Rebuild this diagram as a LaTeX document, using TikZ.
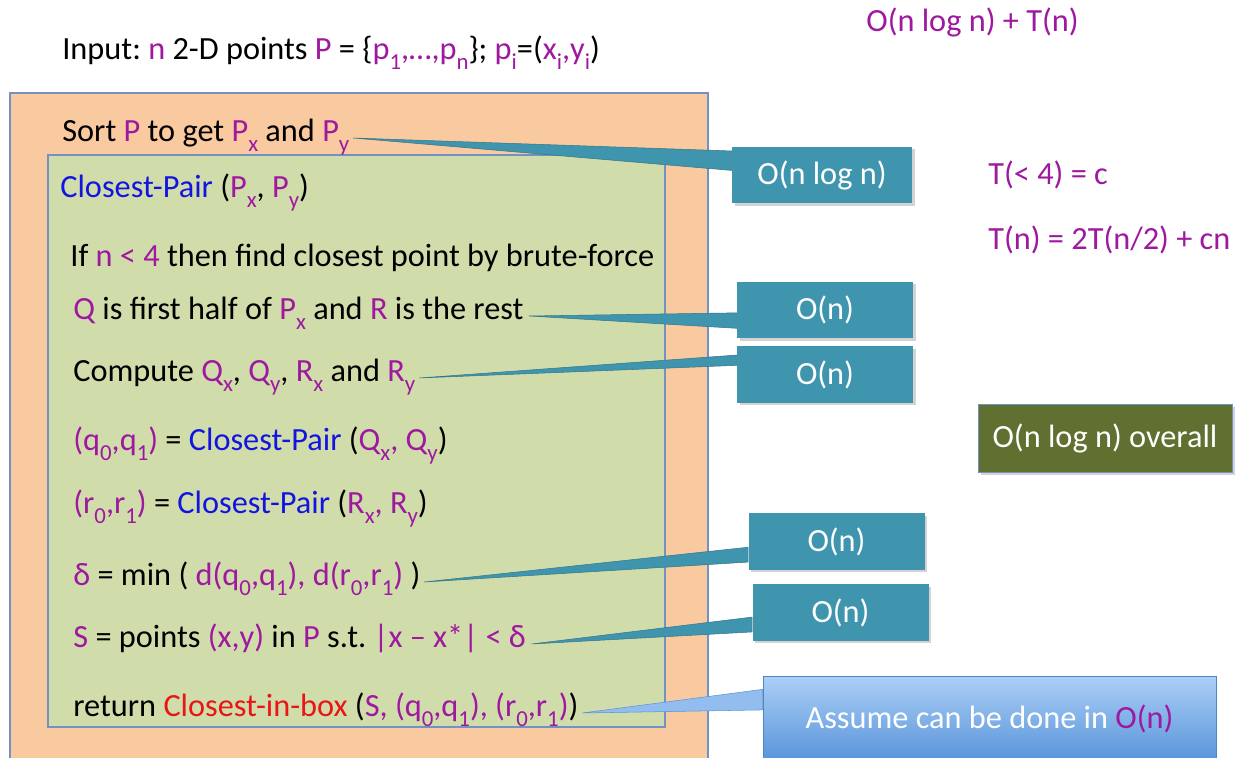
\documentclass[tikz,border=0pt]{standalone}
\usepackage{fontspec}
\setmainfont{Carlito}
\usepackage{tikz}
\usetikzlibrary{positioning}
\usetikzlibrary{calc}
\usetikzlibrary{shadows}

\definecolor{purp}{RGB}{158,24,160}
\definecolor{cpblue}{RGB}{20,20,225}
\definecolor{cred}{RGB}{232,22,22}
\definecolor{peach}{RGB}{249,201,160}
\definecolor{sage}{RGB}{208,221,171}
\definecolor{edgeblue}{RGB}{115,145,195}
\definecolor{tealbox}{RGB}{64,149,174}
\definecolor{olive}{RGB}{95,112,48}
\definecolor{skytop}{RGB}{172,207,246}
\definecolor{skybot}{RGB}{88,148,218}

\newcommand{\prp}[1]{\textcolor{purp}{#1}}
\newcommand{\cpb}[1]{\textcolor{cpblue}{#1}}
\newcommand{\rdt}[1]{\textcolor{cred}{#1}}
\newcommand{\sbs}[1]{\raisebox{-0.3em}{\fontsize{13}{13}\selectfont #1}}
\frenchspacing

\begin{document}
\begin{tikzpicture}[
    line/.style={
        anchor=west,
        inner sep=0pt,
        text height=0.75em,
        text depth=0.3em,
        font=\fontsize{18.4}{22}\selectfont
    },
    cost/.style={
        rectangle,
        fill=tealbox,
        text=white,
        inner sep=0pt,
        minimum width=3.52cm,
        minimum height=1.13cm,
        font=\fontsize{18.4}{22}\selectfont,
        drop shadow={opacity=0.35,shadow xshift=1.5pt,shadow yshift=-1.5pt}
    },
    wedge/.style={fill=tealbox,draw=tealbox!80!black,line width=0.3pt}
]
    \useasboundingbox (0,0) rectangle (24.84,-15.16);
    \clip (0,0) rectangle (24.84,-15.16);

    % boxes
    \node[rectangle, draw=edgeblue, fill=peach, line width=0.6pt,
          minimum width=13.96cm, minimum height=14.14cm] (outer) at (7.18,-8.93) {};
    \node[rectangle, draw=edgeblue, fill=sage, line width=0.6pt,
          minimum width=12.34cm, minimum height=11.44cm] (inner) at (7.13,-8.82) {};

    % algorithm text
    \node[line] (input) at (1.24,-1.12) {Input: \prp{n} 2-D points \prp{P} = \{\prp{p\sbs{1},…,p\sbs{n}}\}; \prp{p\sbs{i}}=(\prp{x\sbs{i},y\sbs{i}})};
    \node[line] (sort) at (1.24,-2.76) {Sort \prp{P} to get \prp{P\sbs{x}} and \prp{P\sbs{y}}};
    \node[line] (cp) at (1.20,-3.88) {\cpb{Closest-Pair} (\prp{P\sbs{x}}, \prp{P\sbs{y}})};
    \node[line] (base) at (1.40,-5.26) {If \prp{n < 4} then find closest point by brute-force};
    \node[line] (split) at (1.46,-6.32) {\prp{Q} is first half of \prp{P\sbs{x}} and \prp{R} is the rest};
    \node[line] (comp) at (1.46,-7.56) {Compute \prp{Q\sbs{x}}, \prp{Q\sbs{y}}, \prp{R\sbs{x}} and \prp{R\sbs{y}}};
    \node[line] (recq) at (1.46,-8.94) {\prp{(q\sbs{0},q\sbs{1})} = \cpb{Closest-Pair} (\prp{Q\sbs{x}, Q\sbs{y}})};
    \node[line] (recr) at (1.46,-10.20) {\prp{(r\sbs{0},r\sbs{1})} = \cpb{Closest-Pair} (\prp{R\sbs{x}, R\sbs{y}})};
    \node[line] (delta) at (1.46,-11.64) {\prp{δ} = min ( \prp{d(q\sbs{0},q\sbs{1}), d(r\sbs{0},r\sbs{1})} )};
    \node[line] (strip) at (1.46,-12.88) {\prp{S} = points \prp{(x,y)} in \prp{P} s.t. \prp{|x – x*| < δ}};
    \node[line] (ret) at (1.46,-14.26) {return \rdt{Closest-in-box} (\prp{S, (q\sbs{0},q\sbs{1}), (r\sbs{0},r\sbs{1})})};

    % recurrence
    \node[line, text=purp] (total) at (17.32,-0.56) {O(n log n) + T(n)};
    \node[line, text=purp] (tbase) at (19.76,-3.62) {T(< 4) = c};
    \node[line, text=purp] (trec) at (19.76,-4.92) {T(n) = 2T(n/2) + cn};

    % cost callouts
    \node[cost, minimum width=3.6cm] (csort) at (16.44,-3.50) {O(n log n)};
    \node[cost] (csplit) at (16.50,-6.20) {O(n)};
    \node[cost] (ccomp) at (16.50,-7.49) {O(n)};
    \node[cost] (cdelta) at (16.73,-10.83) {O(n)};
    \node[cost] (cstrip) at (16.81,-12.25) {O(n)};
    \node[rectangle, fill=olive, text=white, draw=edgeblue, line width=0.4pt,
          minimum width=5.08cm, minimum height=1.36cm,
          font=\fontsize{18.4}{22}\selectfont,
          drop shadow={opacity=0.35,shadow xshift=1.5pt,shadow yshift=-1.5pt}] (overall) at (22.10,-8.76) {O(n log n) overall};
    \node[rectangle, top color=skytop, bottom color=skybot, draw=skybot!90!black, line width=0.4pt,
          text=white, minimum width=9.06cm, minimum height=1.7cm,
          font=\fontsize{18.4}{22}\selectfont] (assume) at (19.79,-14.37) {Assume can be done in \prp{O(n)}};

    % wedges
    \fill[wedge] ([xshift=2pt]sort.east) -- ($(csort.north west)!0.08!(csort.south west)$) -- ($(csort.north west)!0.42!(csort.south west)$) -- cycle;
    \fill[wedge] ([xshift=3pt]split.east) -- ($(csplit.north west)!0.55!(csplit.south west)$) -- ($(csplit.north west)!0.82!(csplit.south west)$) -- cycle;
    \fill[wedge] ([xshift=2pt]comp.east) -- ($(ccomp.north west)!0.16!(ccomp.south west)$) -- ($(ccomp.north west)!0.34!(ccomp.south west)$) -- cycle;
    \fill[wedge] ([xshift=2pt]delta.east) -- ($(cdelta.north west)!0.6!(cdelta.south west)$) -- ($(cdelta.north west)!0.86!(cdelta.south west)$) -- cycle;
    \fill[wedge] ([xshift=3pt]strip.east) -- ($(cstrip.north west)!0.58!(cstrip.south west)$) -- ($(cstrip.north west)!0.84!(cstrip.south west)$) -- cycle;
    \fill[fill=skytop!70!skybot, draw=skybot, line width=0.3pt] ([xshift=2pt]ret.east) -- ($(assume.north west)!0.16!(assume.south west)$) -- ($(assume.north west)!0.40!(assume.south west)$) -- cycle;
\end{tikzpicture}
\end{document}
